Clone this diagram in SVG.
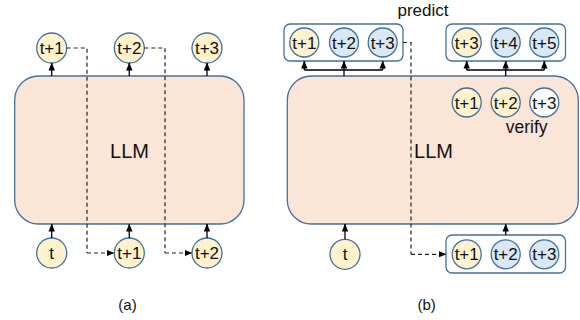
<svg xmlns="http://www.w3.org/2000/svg" width="580" height="320" viewBox="0 0 580 320">
<style>
.llm{fill:#FBE5D6;stroke:#41719C;stroke-width:1.3}
.box{fill:#FFFFFF;stroke:#41719C;stroke-width:1.3}
.y{fill:#FFF2CC;stroke:#41719C;stroke-width:1.3}
.b{fill:#DAE8F5;stroke:#41719C;stroke-width:1.3}
.w{fill:#FFFFFF;stroke:#41719C;stroke-width:1.3}
.tk{font-family:"Liberation Sans",Arial,sans-serif;font-size:17px;fill:#111;text-anchor:middle}
.lab{font-family:"Liberation Sans",Arial,sans-serif;fill:#111;text-anchor:middle}
.arr{stroke:#000;stroke-width:1.3;fill:none;marker-end:url(#ah)}
.ln{stroke:#000;stroke-width:1.3;fill:none}
.dash{stroke:#222;stroke-width:1.2;fill:none;stroke-dasharray:4 3}
.dasharr{stroke:#222;stroke-width:1.2;fill:none;stroke-dasharray:4 3;marker-end:url(#ah)}
</style>
<defs>
<marker id="ah" markerUnits="userSpaceOnUse" markerWidth="8" markerHeight="8" viewBox="0 0 8 8" refX="7.5" refY="4" orient="auto">
<path d="M0,0.8 L8,4 L0,7.2 Z" fill="#000"/>
</marker>
</defs>

<!-- Panel (a) -->
<g id="llm-a">
<rect class="llm" x="14.7" y="76" width="229.3" height="148" rx="24" ry="24"/>
<text class="lab" x="129.5" y="158" font-size="20">LLM</text>
</g>
<g id="a-out1"><circle class="y" cx="51.7" cy="48" r="15"/><text class="tk" x="51.7" y="54">t+1</text></g>
<g id="a-out2"><circle class="y" cx="129.3" cy="48" r="15"/><text class="tk" x="129.3" y="54">t+2</text></g>
<g id="a-out3"><circle class="y" cx="207" cy="48" r="15"/><text class="tk" x="207" y="54">t+3</text></g>
<g id="a-in0"><circle class="y" cx="51.7" cy="253" r="15"/><text class="tk" x="51.7" y="259">t</text></g>
<g id="a-in1"><circle class="y" cx="129.3" cy="253" r="15"/><text class="tk" x="129.3" y="259">t+1</text></g>
<g id="a-in2"><circle class="y" cx="207" cy="253" r="15"/><text class="tk" x="207" y="259">t+2</text></g>
<text class="lab" x="127.5" y="310" font-size="15">(a)</text>

<!-- Panel (b) -->
<g id="llm-b">
<rect class="llm" x="287.3" y="76" width="291" height="148" rx="24" ry="24"/>
<text class="lab" x="433.5" y="158" font-size="20">LLM</text>
</g>
<g id="b-pred1">
<rect class="box" x="284" y="24" width="119" height="37" rx="6" ry="6"/>
<circle class="y" cx="304.3" cy="42.5" r="14.5"/><text class="tk" x="304.3" y="48.5">t+1</text>
<circle class="b" cx="344" cy="42.5" r="14.5"/><text class="tk" x="344" y="48.5">t+2</text>
<circle class="b" cx="382.7" cy="42.5" r="14.5"/><text class="tk" x="382.7" y="48.5">t+3</text>
</g>
<g id="b-pred2">
<rect class="box" x="446" y="24" width="119.5" height="37" rx="6" ry="6"/>
<circle class="y" cx="466.7" cy="42.5" r="14.5"/><text class="tk" x="466.7" y="48.5">t+3</text>
<circle class="b" cx="505.7" cy="42.5" r="14.5"/><text class="tk" x="505.7" y="48.5">t+4</text>
<circle class="b" cx="544.3" cy="42.5" r="14.5"/><text class="tk" x="544.3" y="48.5">t+5</text>
</g>
<text class="lab" x="423" y="15.5" font-size="17">predict</text>
<g id="b-verify">
<circle class="y" cx="466.7" cy="102.5" r="14.5"/><text class="tk" x="466.7" y="108.5">t+1</text>
<circle class="y" cx="505.7" cy="102.5" r="14.5"/><text class="tk" x="505.7" y="108.5">t+2</text>
<circle class="w" cx="544.3" cy="102.5" r="14.5"/><text class="tk" x="544.3" y="108.5">t+3</text>
<text class="lab" x="526.7" y="133" font-size="17.5">verify</text>
</g>
<g id="b-in0"><circle class="y" cx="345" cy="254.3" r="15"/><text class="tk" x="345" y="260.3">t</text></g>
<g id="b-in">
<rect class="box" x="446" y="235" width="119.5" height="38" rx="6" ry="6"/>
<circle class="y" cx="466.7" cy="254.3" r="14.5"/><text class="tk" x="466.7" y="260.3">t+1</text>
<circle class="b" cx="505.7" cy="254.3" r="14.5"/><text class="tk" x="505.7" y="260.3">t+2</text>
<circle class="b" cx="544.3" cy="254.3" r="14.5"/><text class="tk" x="544.3" y="260.3">t+3</text>
</g>
<text class="lab" x="426.7" y="310" font-size="15">(b)</text>

<g id="connectors">
<!-- (a) -->
<path class="arr" d="M51.7,76 V63"/>
<path class="arr" d="M129.3,76 V63"/>
<path class="arr" d="M207,76 V63"/>
<path class="arr" d="M51.7,238 V224"/>
<path class="arr" d="M129.3,238 V224"/>
<path class="arr" d="M207,238 V224"/>
<path class="dash" d="M66.7,48 H87 V253"/>
<path class="dasharr" d="M87,253 H114"/>
<path class="dash" d="M144.3,48 H165 V253"/>
<path class="dasharr" d="M165,253 H192"/>
<!-- (b) -->
<path class="ln" d="M344,76 V70 M304.3,70 H382.7"/>
<path class="arr" d="M304.3,70 V61"/>
<path class="arr" d="M344,70 V61"/>
<path class="arr" d="M382.7,70 V61"/>
<path class="ln" d="M505.7,76 V70 M466.7,70 H544.3"/>
<path class="arr" d="M466.7,70 V61"/>
<path class="arr" d="M505.7,70 V61"/>
<path class="arr" d="M544.3,70 V61"/>
<path class="arr" d="M345,239.3 V224"/>
<path class="arr" d="M505.7,235 V224"/>
<path class="dash" d="M403,42.5 H411 V254.3"/>
<path class="dasharr" d="M411,254.3 H446"/>
</g>
</svg>
